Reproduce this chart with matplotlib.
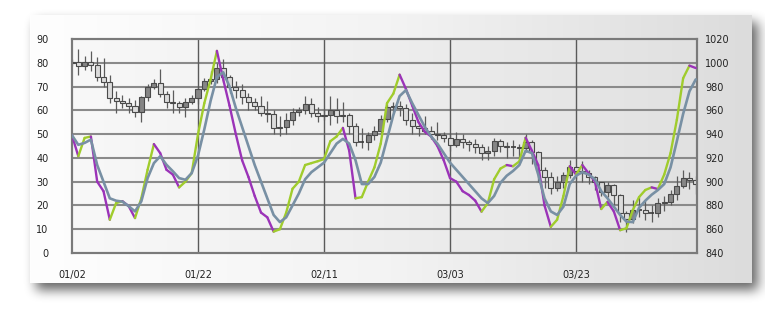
import numpy as np
import pandas as pd
import matplotlib
matplotlib.use("Agg")
import matplotlib.pyplot as plt
from matplotlib.collections import LineCollection
from matplotlib.colors import LinearSegmentedColormap
from matplotlib.patches import Rectangle

# data
dates = pd.date_range("2013-01-02", periods=100, freq="D")
tick_idx = [0, 20, 40, 60, 80]

first_open = 1000
closes = [1001, 997, 1001, 998, 988, 984, 970, 968, 966, 964,
          959, 971, 980, 983, 974, 967, 966, 963, 967, 970,
          978, 985, 986, 996, 988, 980, 977, 971, 967, 964,
          958, 957, 945, 946, 952, 959, 960, 965, 958, 955,
          956, 960, 955, 956, 947, 933, 933, 939, 943, 953,
          963, 964, 962, 952, 947, 945, 943, 940, 939, 937,
          931, 936, 933, 932, 929, 924, 926, 934, 930, 929,
          929, 928, 933, 925, 910, 904, 895, 900, 906, 912,
          909, 907, 904, 900, 891, 897, 889, 874, 869, 876,
          876, 874, 874, 882, 883, 890, 896, 903, 901, 898]
highs = [1003, 1012, 1006, 1010, 1005, 1004, 990, 976, 973, 970,
         969, 972, 982, 986, 995, 976, 977, 968, 970, 973,
         980, 987, 993, 1000, 1003, 990, 985, 982, 975, 970,
         972, 968, 960, 955, 958, 962, 963, 972, 970, 963,
         960, 972, 970, 967, 958, 949, 945, 942, 947, 956,
         965, 967, 968, 965, 958, 950, 955, 947, 950, 942,
         940, 942, 940, 935, 936, 932, 930, 937, 936, 933,
         935, 932, 940, 935, 926, 912, 908, 905, 908, 918,
         913, 917, 910, 905, 900, 900, 898, 890, 875, 885,
         887, 885, 880, 886, 888, 893, 905, 910, 908, 905]
lows = [997, 990, 994, 993, 985, 980, 966, 958, 962, 958,
        954, 950, 968, 978, 971, 962, 958, 958, 954, 965,
        965, 976, 982, 983, 984, 975, 970, 965, 960, 960,
        955, 950, 940, 938, 940, 948, 955, 957, 954, 950,
        952, 948, 949, 950, 940, 930, 928, 927, 935, 940,
        950, 958, 955, 948, 940, 938, 940, 936, 935, 933,
        926, 929, 928, 926, 924, 918, 918, 922, 925, 920,
        922, 920, 925, 915, 900, 895, 890, 892, 895, 903,
        902, 900, 898, 893, 888, 887, 880, 866, 858, 865,
        870, 868, 866, 870, 875, 880, 885, 895, 894, 890]

# oscillator (coloured by direction) and its smoothed signal
osc_k = [49.5, 40.7, 48.4, 49, 30, 26, 14, 21, 21.8, 19.7,
         14.7, 23, 35, 45.8, 42, 35, 33, 27.6, 30, 33.6,
         50, 63, 73, 85, 73, 62, 50, 39, 32, 24,
         17, 15, 9, 10, 17, 27, 30, 37, 37.8, 38.6,
         39.5, 47, 49, 52.6, 43, 23, 23.5, 30, 36, 46,
         63, 67, 75, 69, 62, 55, 51, 49, 45, 39,
         31.5, 30, 26, 24.4, 22, 17.4, 21, 31, 35.5, 37,
         36.5, 38.5, 48.5, 43, 37, 20, 11, 14, 24, 36.5,
         33, 37, 33.5, 30, 18.5, 21.5, 17.5, 9.6, 10.4, 18,
         23.5, 26.5, 27.6, 26.9, 33, 42, 56, 73.5, 78.8, 77.8]
osc_d = [49.5, 45.5, 46.3, 47.7, 37, 30, 23, 22, 21.6, 19.7,
         17.5, 21.7, 31.5, 37.8, 40.7, 37.1, 34.4, 31.5, 30.8, 33.6,
         41, 52, 64, 74, 76, 70, 61, 53, 45, 37,
         30, 23, 16, 13, 15, 20, 25, 31, 34, 36,
         38, 42, 46, 48, 46, 39, 29, 29, 32, 38,
         48, 58, 66, 68.5, 63, 58, 53, 49, 46, 42,
         38, 35, 32, 29, 26, 23, 21, 24, 29.5, 32.5,
         34.5, 37, 43, 42, 33, 23, 17.5, 16, 19.5, 29,
         32.5, 34, 33, 31, 26, 23, 19.5, 16, 13.2, 13,
         19, 22, 24.5, 26.5, 29, 36, 47, 58.5, 68, 73]

W, H = 765, 316
fig = plt.figure(figsize=(W / 100, H / 100), dpi=100)

# background: soft drop shadow + gradient panel
bg = fig.add_axes([0, 0, 1, 1])
bg.set_xlim(0, W)
bg.set_ylim(H, 0)
bg.axis("off")

mask = np.zeros((H, W))
mask[22:290, 36:758] = 1.0


def box_blur(a, r, axis):
    c = np.cumsum(np.pad(a, [(r + 1, r) if k == axis else (0, 0) for k in range(2)], mode="edge"), axis=axis)
    if axis == 0:
        return (c[2 * r + 1:] - c[:-2 * r - 1]) / (2 * r + 1)
    return (c[:, 2 * r + 1:] - c[:, :-2 * r - 1]) / (2 * r + 1)


for _ in range(3):
    mask = box_blur(box_blur(mask, 5, 0), 5, 1)
shadow = np.zeros((H, W, 4))
shadow[..., 3] = mask * 0.6
bg.imshow(shadow, extent=[0, W, H, 0], aspect="auto", zorder=1, interpolation="bilinear")

grad = np.linspace(0, 1, 256).reshape(1, -1)
bg.imshow(grad, extent=[30, 752, 283, 15], aspect="auto", zorder=2,
          cmap=LinearSegmentedColormap.from_list("box", ["#fefefe", "#f3f3f3", "#dcdcdc"]))

ax = fig.add_axes([72 / W, (H - 253) / H, 625 / W, 214 / H])
ax2 = ax.twinx()

# price on ax (right side), oscillator on ax2 (left side)
ax.set_ylim(840, 1020)
ax.set_xlim(0, 99.2)
ax.imshow(grad, extent=[0, 99.2, 840, 1020], aspect="auto", zorder=0,
          cmap=LinearSegmentedColormap.from_list("plot", ["#f8f8f8", "#eeeeee", "#e1e1e1"]))

for v in range(860, 1020, 20):
    ax.axhline(v, color="#8a8a8a", lw=1.5, zorder=1)
for t in tick_idx[1:]:
    ax.axvline(t, color="#5a5a5a", lw=1.0, zorder=1)

opens = [first_open] + closes[:-1]
bw = 0.8
for i in range(len(closes)):
    o, c = opens[i], closes[i]
    up = c > o
    ax.vlines(i, lows[i], highs[i], color="#5c5c5c", lw=0.9, zorder=2)
    lo, hi = min(o, c), max(o, c)
    if hi - lo < 0.6:
        ax.hlines(c, i - bw / 2, i + bw / 2, color="#3c3c3c", lw=1.2, zorder=3)
    else:
        ax.add_patch(Rectangle((i - bw / 2, lo), bw, hi - lo,
                               facecolor="#858585" if up else "#dcdcdc",
                               edgecolor="#4a4a4a", lw=0.8, zorder=3))

ax2.set_ylim(0, 90)
x = np.arange(len(osc_k))
segs = [[(x[i], osc_k[i]), (x[i + 1], osc_k[i + 1])] for i in range(len(x) - 1)]
cols = ["#a0cc2c" if osc_k[i + 1] >= osc_k[i] else "#9b33b8" for i in range(len(x) - 1)]
ax2.add_collection(LineCollection(segs, colors=cols, linewidths=1.7, capstyle="round", zorder=4))
ax2.plot(x, osc_d, color="#7890a4", lw=1.9, solid_capstyle="round", zorder=5)

# axes & labels
ax.yaxis.tick_right()
ax2.yaxis.tick_left()
ax.set_yticks(range(840, 1021, 20))
ax2.set_yticks(range(0, 91, 10))
ax.set_xticks(tick_idx)
ax.set_xticklabels([d.strftime("%m/%d") for d in dates[tick_idx]])
ax.tick_params(axis="y", length=0, pad=6, labelsize=7, labelcolor="#222222")
ax2.tick_params(axis="y", length=0, pad=17, labelsize=7, labelcolor="#222222")
ax.tick_params(axis="x", length=0, pad=12, labelsize=7, labelcolor="#222222")
for a in (ax, ax2):
    for s in a.spines.values():
        s.set_color("#7a7a7a")
        s.set_linewidth(1.5)
ax2.patch.set_visible(False)

fig.savefig("out.png", dpi=100)
